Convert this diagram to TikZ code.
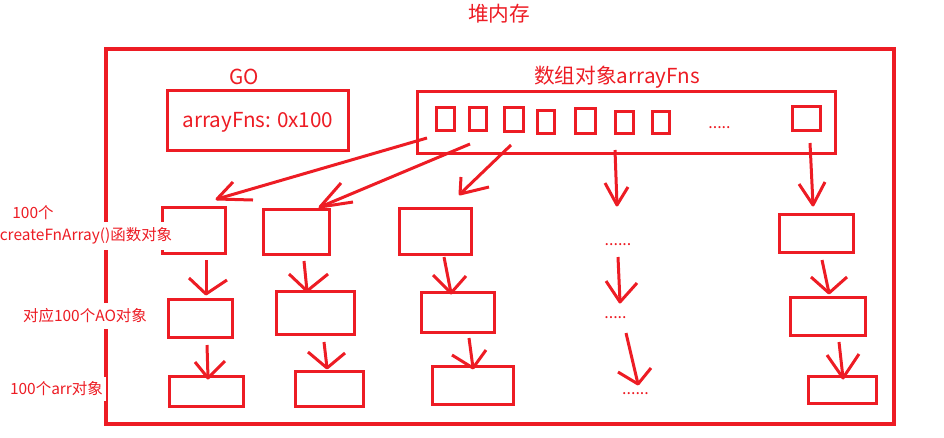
\documentclass[tikz,border=0pt]{standalone}
\usepackage{fontspec}
\setmainfont{Noto Sans CJK SC}
\usetikzlibrary{fit}
\definecolor{hred}{RGB}{237,28,36}
\newcommand\harrow[5]{%
  \coordinate (#1s) at (#2); \coordinate (#1t) at (#3);
  \coordinate (#1l) at (#4); \coordinate (#1r) at (#5);
  \draw[arr] (#1s) -- (#1t); \draw[arr] (#1l) -- (#1t) -- (#1r);}
\begin{document}
\begin{tikzpicture}[x=0.75pt,y=-0.75pt,
  box/.style={draw=hred, line width=2.25pt, inner sep=0pt},
  outerbox/.style={draw=hred, line width=3pt, inner sep=0pt},
  arr/.style={draw=hred, line width=2.25pt, line join=round},
  big/.style={text=hred, font=\fontsize{15.5}{18}\selectfont, inner sep=0pt},
  lab/.style={text=hred, fill=white, font=\fontsize{11.6}{14}\selectfont, inner xsep=2pt},
  dots/.style={text=hred, font=\fontsize{12}{14}\selectfont, inner sep=0pt, anchor=base}]
\useasboundingbox (0,0) rectangle (944,437);
% outer heap box
\node[outerbox, fit={(105.5,48.5)(893.5,423.5)}] (heap) {};
\node[big] (title) at (499,14) {堆内存};
% GO
\node[box, fit={(167.5,90.5)(348.5,150.5)}] (go) {};
\node[big] (golabel) at (244,77) {GO};
\node[big] (gotext) at (258,122) {arrayFns: 0x100};
% array object
\node[box, fit={(417.5,91.5)(835.5,153.5)}] (arrbox) {};
\node[big] (arrlabel) at (617,77) {数组对象arrayFns};
\node[box, fit={(436.5,107.5)(454.5,130.5)}] (s1) {};
\node[box, fit={(469.5,107.5)(486.5,130.5)}] (s2) {};
\node[box, fit={(504.5,107.5)(523.5,131.5)}] (s3) {};
\node[box, fit={(537.5,110.5)(554.5,133.5)}] (s4) {};
\node[box, fit={(575.5,108.5)(595.5,133.5)}] (s5) {};
\node[box, fit={(615.5,111.5)(633.5,133.5)}] (s6) {};
\node[box, fit={(652.5,111.5)(669.5,133.5)}] (s7) {};
\node[box, fit={(792.5,106.5)(820.5,130.5)}] (s8) {};
\node[dots] (sdots) at (719.5,128) {.....};
% row 1
\node[box, fit={(162.5,207.5)(225.5,253.5)}] (a1) {};
\node[box, fit={(263.5,209.5)(329.5,254.5)}] (b1) {};
\node[box, fit={(399.5,208.5)(471.5,254.5)}] (c1) {};
\node[dots] (d1) at (618,245) {......};
\node[box, fit={(779.5,214.5)(853.5,252.5)}] (e1) {};
% row 2
\node[box, fit={(168.5,299.5)(232.5,337.5)}] (a2) {};
\node[box, fit={(276.5,291.5)(354.5,334.5)}] (b2) {};
\node[box, fit={(421.5,292.5)(494.5,332.5)}] (c2) {};
\node[dots] (d2) at (615.5,318) {.....};
\node[box, fit={(790.5,297.5)(865.5,335.5)}] (e2) {};
% row 3
\node[box, fit={(169.5,376.5)(243.5,406.5)}] (a3) {};
\node[box, fit={(295.5,371.5)(363.5,406.5)}] (b3) {};
\node[box, fit={(432.5,366.5)(513.5,404.5)}] (c3) {};
\node[dots] (d3) at (635.5,394) {......};
\node[box, fit={(808.5,376.5)(876.5,403.5)}] (e3) {};
% arrows from array to row 1
\harrow{p1}{427,138}{217,199}{233,182}{253,200}
\harrow{p2}{470,144}{320,207}{341,183}{353,202}
\harrow{p3}{511,145}{460,194}{461,177}{489,187}
\harrow{p4}{615,150}{617,205}{605,183}{628,187}
\harrow{p5}{810,143}{813,205}{799,184}{825,182}
% row 1 -> row 2
\harrow{qa}{206,260}{206,294}{189,278}{227,280}
\harrow{qb}{304,261}{307,291}{289,274}{328,274}
\harrow{qc}{444,257}{451,293}{433,275}{466,276}
\harrow{qd}{618,257}{620,302}{606,281}{637,283}
\harrow{qe}{822,260}{829,293}{811,277}{847,277}
% row 2 -> row 3
\harrow{ra}{207,345}{208,378}{195,362}{225,361}
\harrow{rb}{324,342}{327,368}{308,352}{345,353}
\harrow{rc}{469,338}{473,368}{452,355}{486,350}
\harrow{rd}{626,333}{638,384}{618,372}{651,368}
\harrow{re}{839,342}{843,378}{827,355}{859,354}
% labels
\node[lab, inner ysep=3pt] (l1a) at (33,213) {100个};
\node[lab, inner ysep=4pt] (l1b) at (86,236) {createFnArray()函数对象};
\node[lab, inner ysep=4pt] (l2) at (85,316) {对应100个AO对象};
\node[lab, inner ysep=4pt] (l3) at (56.5,389) {100个arr对象};
\end{tikzpicture}
\end{document}
